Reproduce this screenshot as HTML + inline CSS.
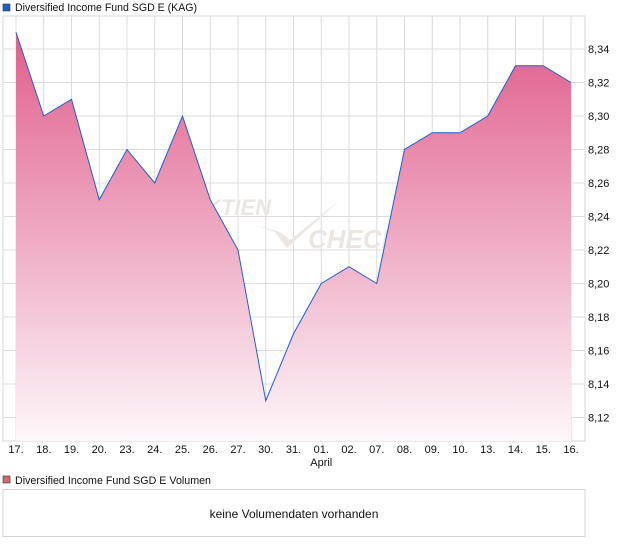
<!DOCTYPE html>
<html><head><meta charset="utf-8"><style>
body{margin:0;background:#fff;font-family:"Liberation Sans",sans-serif;}
</style></head><body>
<svg width="620" height="546" xmlns="http://www.w3.org/2000/svg" font-family="Liberation Sans, sans-serif" font-size="11" style="display:block">
<defs>
<linearGradient id="g" x1="0" y1="32" x2="0" y2="441" gradientUnits="userSpaceOnUse">
<stop offset="0" stop-color="#e05e8c"/>
<stop offset="1" stop-color="#fdf7fa"/>
</linearGradient>
</defs>
<rect x="3" y="4" width="7" height="7" fill="#1f5fbf" stroke="#333" stroke-width="0.6"/>
<text x="15" y="11" fill="#111" textLength="182" lengthAdjust="spacingAndGlyphs">Diversified Income Fund SGD E (KAG)</text>
<rect x="3" y="16" width="582" height="425" fill="#fff" stroke="#d4d4d4"/>
<g stroke="#dcdcdc" stroke-width="1">
<path d="M16 16V441M43.75 16V441M71.5 16V441M99.25 16V441M127 16V441M154.75 16V441M182.5 16V441M210.25 16V441M238 16V441M265.75 16V441M293.5 16V441M321.25 16V441M349 16V441M376.75 16V441M404.5 16V441M432.25 16V441M460 16V441M487.75 16V441M515.5 16V441M543.25 16V441M571 16V441"/>
<path d="M3 49H585M3 82.5H585M3 116H585M3 149.5H585M3 183H585M3 216.5H585M3 250H585M3 283.5H585M3 317H585M3 350.5H585M3 384H585M3 417.5H585"/>
</g>
<g fill="#ebe6e2" font-style="italic" font-weight="bold">
<text x="205" y="215" font-size="22">KTIEN</text>
<text x="308" y="248" font-size="26">CHECK</text>
<path d="M255 225 L275 232 L287 248 L340 200 L290 240 L280 232Z" fill="#ebe6e2"/>
</g>
<path d="M16 32.25L43.75 116L71.5 99.25L99.25 199.75L127 149.5L154.75 183L182.5 116L210.25 199.75L238 250L265.75 400.75L293.5 333.75L321.25 283.5L349 266.75L376.75 283.5L404.5 149.5L432.25 132.75L460 132.75L487.75 116L515.5 65.75L543.25 65.75L571 82.5L571 441L16 441Z" fill="url(#g)"/>
<path d="M16 32.25L43.75 116L71.5 99.25L99.25 199.75L127 149.5L154.75 183L182.5 116L210.25 199.75L238 250L265.75 400.75L293.5 333.75L321.25 283.5L349 266.75L376.75 283.5L404.5 149.5L432.25 132.75L460 132.75L487.75 116L515.5 65.75L543.25 65.75L571 82.5" fill="none" stroke="#1f5fcf" stroke-width="1"/>
<g fill="#111">
<text x="588" y="53">8,34</text><text x="588" y="86.5">8,32</text><text x="588" y="120">8,30</text><text x="588" y="153.5">8,28</text><text x="588" y="187">8,26</text><text x="588" y="220.5">8,24</text><text x="588" y="254">8,22</text><text x="588" y="287.5">8,20</text><text x="588" y="321">8,18</text><text x="588" y="354.5">8,16</text><text x="588" y="388">8,14</text><text x="588" y="421.5">8,12</text>
</g>
<g fill="#111" text-anchor="middle">
<text x="16" y="453">17.</text><text x="43.75" y="453">18.</text><text x="71.5" y="453">19.</text><text x="99.25" y="453">20.</text><text x="127" y="453">23.</text><text x="154.75" y="453">24.</text><text x="182.5" y="453">25.</text><text x="210.25" y="453">26.</text><text x="238" y="453">27.</text><text x="265.75" y="453">30.</text><text x="293.5" y="453">31.</text><text x="321.25" y="453">01.</text><text x="349" y="453">02.</text><text x="376.75" y="453">07.</text><text x="404.5" y="453">08.</text><text x="432.25" y="453">09.</text><text x="460" y="453">10.</text><text x="487.75" y="453">13.</text><text x="515.5" y="453">14.</text><text x="543.25" y="453">15.</text><text x="571" y="453">16.</text>
<text x="321.25" y="466">April</text>
</g>
<rect x="3" y="476" width="7" height="7" fill="#d9666e" stroke="#333" stroke-width="0.6"/>
<text x="15" y="484" fill="#111" textLength="196" lengthAdjust="spacingAndGlyphs">Diversified Income Fund SGD E Volumen</text>
<rect x="3" y="489.5" width="582" height="47" fill="#fff" stroke="#d4d4d4"/>
<text x="294" y="518" fill="#111" text-anchor="middle" font-size="12">keine Volumendaten vorhanden</text>
</svg>
</body></html>
